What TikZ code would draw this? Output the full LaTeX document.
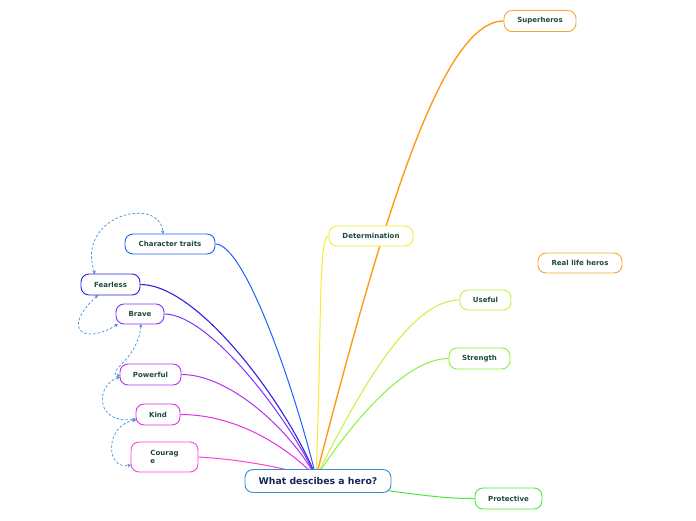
\documentclass[tikz,border=0pt]{standalone}
\usepackage{fontspec}
\setmainfont{DejaVu Sans}
\usetikzlibrary{backgrounds,arrows.meta}
\definecolor{txt}{HTML}{1E4A3A}
\definecolor{hubtxt}{HTML}{15275A}
\definecolor{hubc}{HTML}{3A8FD0}
\definecolor{orA}{HTML}{F7A530}
\definecolor{orL}{HTML}{FF9A1A}
\definecolor{yel}{HTML}{F5EC30}
\definecolor{ygr}{HTML}{C4F23A}
\definecolor{gr1}{HTML}{8AF03A}
\definecolor{gr2}{HTML}{40EE3A}
\definecolor{bl1}{HTML}{2060FF}
\definecolor{bl2}{HTML}{3020E0}
\definecolor{pu1}{HTML}{8030FF}
\definecolor{pu2}{HTML}{B030F0}
\definecolor{mg1}{HTML}{E030E8}
\definecolor{mg2}{HTML}{FF40D0}
\definecolor{rel}{HTML}{3C8FDA}
\tikzset{
  mm/.style={draw, rounded corners=8pt, fill=white, text=txt, line width=0.9pt,
    inner sep=0pt, font=\fontsize{7}{8.4}\selectfont\bfseries},
  conn/.style={line width=1pt},
  relarrow/.style={rel, dashed, dash pattern=on 2.5pt off 2pt, line width=0.7pt,
    {Stealth[length=3.5pt,width=3.5pt]}-{Stealth[length=3.5pt,width=3.5pt]}}
}
\begin{document}
\begin{tikzpicture}[x=1pt,y=-1pt]
\useasboundingbox (0,0) rectangle (696,520);
% nodes
\node[mm, draw=hubc, text=hubtxt, minimum width=146pt, minimum height=23pt,
  font=\fontsize{9.3}{11}\selectfont\bfseries] (hero) at (318,481) {What descibes a hero?};
\node[mm, draw=orA, minimum width=72pt, minimum height=21pt] (sup) at (540,21) {Superheros};
\node[mm, draw=orA, minimum width=84pt, minimum height=20pt] (real) at (580,263) {Real life heros};
\node[mm, draw=yel, minimum width=84pt, minimum height=20pt] (det) at (371,236) {Determination};
\node[mm, draw=ygr, minimum width=51pt, minimum height=20pt] (use) at (485.5,300) {Useful};
\node[mm, draw=gr1, minimum width=61pt, minimum height=21pt] (str) at (479.5,358.5) {Strength};
\node[mm, draw=gr2, minimum width=67pt, minimum height=21pt] (pro) at (508.5,498.5) {Protective};
\node[mm, draw=bl1, minimum width=90pt, minimum height=20pt] (ct) at (170,244) {Character traits};
\node[mm, draw=bl2, minimum width=59pt, minimum height=21pt] (fear) at (110.5,284.5) {Fearless};
\node[mm, draw=pu1, minimum width=48pt, minimum height=20pt] (brave) at (140,314) {Brave};
\node[mm, draw=pu2, minimum width=61pt, minimum height=21pt] (pow) at (150.5,374.5) {Powerful};
\node[mm, draw=mg1, minimum width=44pt, minimum height=21pt] (kind) at (158,414.5) {Kind};
\node[mm, draw=mg2, minimum width=67pt, minimum height=30pt, align=left] (cour) at (164.5,457) {Courag\\e};
\coordinate (hub) at (316,477);
\begin{scope}[on background layer]
  \draw[conn, orL, line width=1.4pt] (hub) .. controls (380,230) and (440,21) .. (sup.west);
  \draw[conn, yel] (hub) .. controls (322,330) and (318,236) .. (det.west);
  \draw[conn, ygr] (hub) .. controls (360,390) and (410,300) .. (use.west);
  \draw[conn, gr1] (hub) .. controls (360,410) and (410,358.5) .. (str.west);
  \draw[conn, gr2] (hero.center) .. controls (420,495) and (440,498.5) .. (pro.west);
  \draw[conn, bl1] (ct.east) .. controls (245,244) and (295,390) .. (hub);
  \draw[conn, bl2, line width=1.1pt] (fear.east) .. controls (200,284.5) and (290,410) .. (hub);
  \draw[conn, pu1] (brave.east) .. controls (210,314) and (290,420) .. (hub);
  \draw[conn, pu2] (pow.east) .. controls (230,374.5) and (290,430) .. (hub);
  \draw[conn, mg1] (kind.east) .. controls (240,414.5) and (290,450) .. (hub);
  \draw[conn, mg2] (cour.east) .. controls (250,460) and (290,470) .. (hub);
  % relationships
  \coordinate (r1a) at (95,274);
  \coordinate (r1b) at (163,234);
  \draw[relarrow] (r1a) .. controls (75,215) and (160,195) .. (r1b);
  \coordinate (r2a) at (98,295);
  \coordinate (r2b) at (118,324);
  \draw[relarrow] (r2a) .. controls (60,330) and (85,345) .. (r2b);
  \coordinate (r3a) at (141,324);
  \coordinate (r3b) at (120,376);
  \draw[relarrow] (r3a) .. controls (138,360) and (105,372) .. (r3b);
  \coordinate (r4a) at (120,377);
  \coordinate (r4b) at (136,419);
  \draw[relarrow] (r4a) .. controls (95,385) and (95,425) .. (r4b);
  \coordinate (r5a) at (136,420);
  \coordinate (r5b) at (131,465);
  \draw[relarrow] (r5a) .. controls (105,425) and (105,470) .. (r5b);
\end{scope}
\end{tikzpicture}
\end{document}
